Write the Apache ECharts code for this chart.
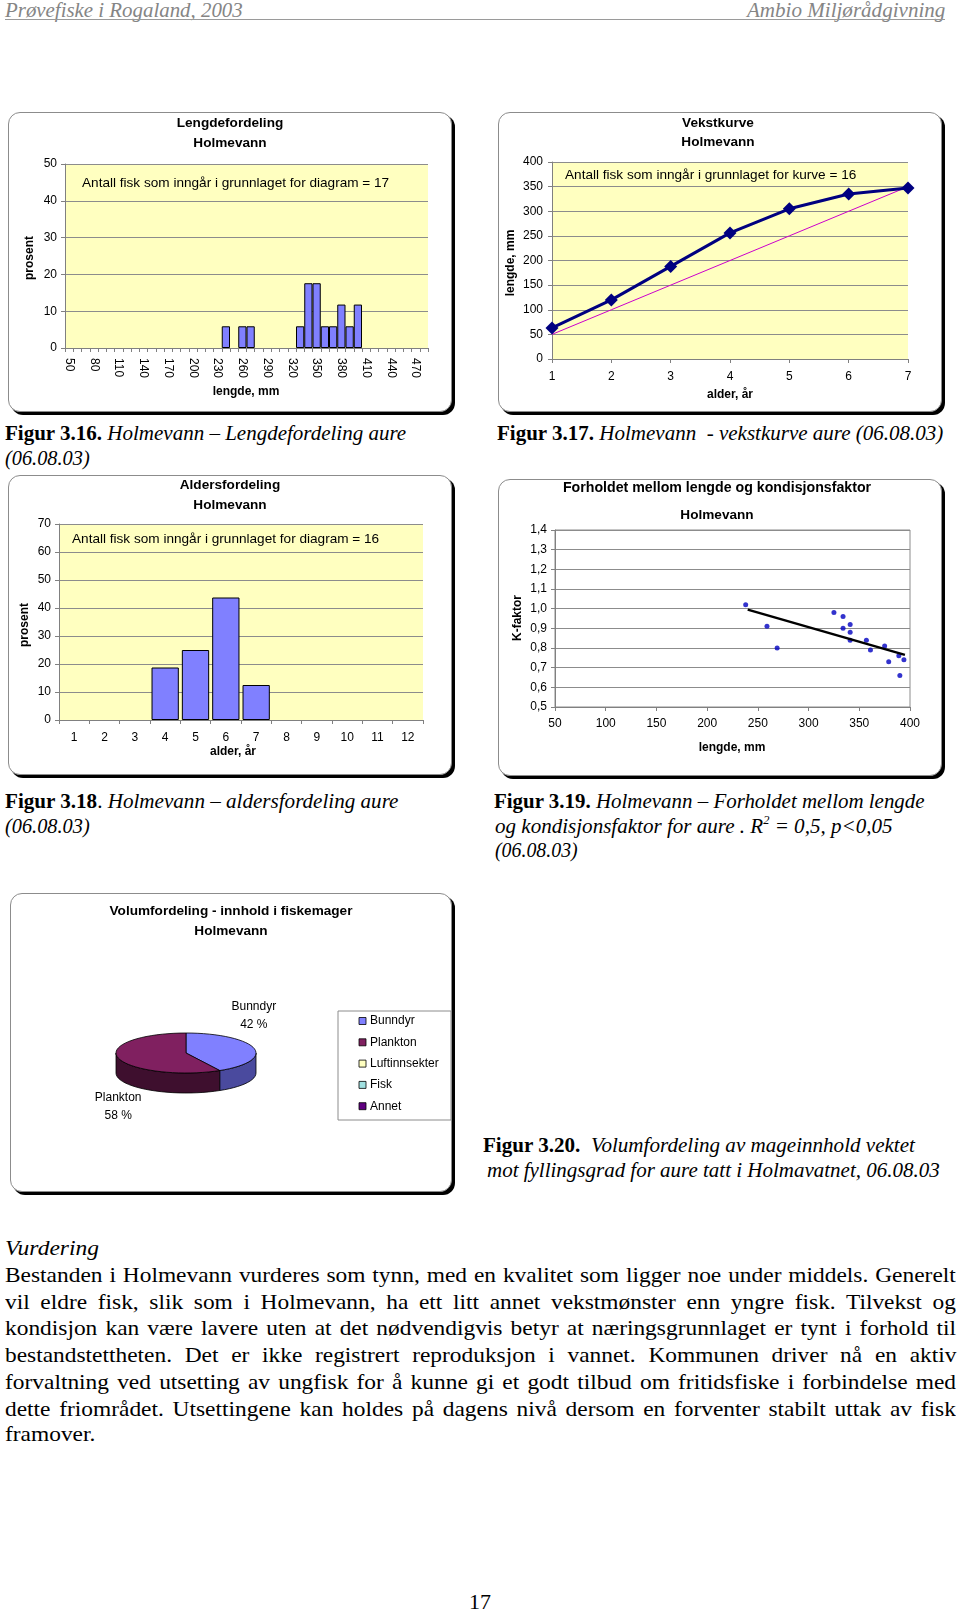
<!DOCTYPE html>
<html><head><meta charset="utf-8">
<script src="https://cdn.jsdelivr.net/npm/echarts@6/dist/echarts.min.js"></script>
<style>
html,body{margin:0;padding:0;background:#fff;}
body{width:960px;height:1613px;position:relative;overflow:hidden;font-family:"Liberation Serif","Times New Roman",serif;color:#000;}
.t{position:absolute;white-space:pre;display:inline-block;transform-origin:0 50%;line-height:26px;height:26px;font-size:22px;}
.frame{position:absolute;box-sizing:border-box;border:1px solid #8c8c8c;border-radius:12px;box-shadow:3px 3px 0 #000;background:#fff;}
.chart{position:absolute;}
.hdr{color:#858585;font-style:italic;font-size:20px;}
sup{font-size:13px;line-height:0;vertical-align:9px;}
</style></head>
<body>
<div class="t hdr" style="left:5px;top:-3px" data-w="238">Prøvefiske i Rogaland, 2003</div>
<div class="t hdr" style="left:747px;top:-3px" data-w="198">Ambio Miljørådgivning</div>
<div style="position:absolute;left:5px;top:19px;width:940px;border-top:1.5px solid #9a9a9a"></div>

<div class="frame" style="left:8px;top:112px;width:444px;height:300px"></div>
<div class="chart" id="c1" style="left:8px;top:112px;width:444px;height:300px"></div>
<div class="frame" style="left:498px;top:112px;width:444px;height:300px"></div>
<div class="chart" id="c2" style="left:498px;top:112px;width:444px;height:300px"></div>
<div class="frame" style="left:8px;top:475px;width:444px;height:300px"></div>
<div class="chart" id="c3" style="left:8px;top:475px;width:444px;height:300px"></div>
<div class="frame" style="left:498px;top:479px;width:444px;height:297px"></div>
<div class="chart" id="c4" style="left:498px;top:479px;width:444px;height:297px"></div>
<div class="frame" style="left:10px;top:893px;width:442px;height:299px"></div>
<div class="chart" id="c5" style="left:10px;top:893px;width:442px;height:299px"></div>

<div class="t" style="left:5px;top:420px" data-w="401"><b>Figur 3.16.</b><i> Holmevann – Lengdefordeling aure</i></div>
<div class="t" style="left:5px;top:445px" data-w="85"><i>(06.08.03)</i></div>
<div class="t" style="left:497px;top:420px" data-w="446"><b>Figur 3.17.</b><i> Holmevann  - vekstkurve aure (06.08.03)</i></div>
<div class="t" style="left:5px;top:788px" data-w="393"><b>Figur 3.18</b>. <i>Holmevann – aldersfordeling aure</i></div>
<div class="t" style="left:5px;top:813px" data-w="85"><i>(06.08.03)</i></div>
<div class="t" style="left:494px;top:788px" data-w="431"><b>Figur 3.19.</b><i> Holmevann – Forholdet mellom lengde</i></div>
<div class="t" style="left:495px;top:813px" data-w="398"><i>og kondisjonsfaktor for aure . R<sup>2</sup> = 0,5, p&lt;0,05</i></div>
<div class="t" style="left:495px;top:837px" data-w="83"><i>(06.08.03)</i></div>
<div class="t" style="left:483px;top:1132px" data-w="432"><b>Figur 3.20.</b>  <i>Volumfordeling av mageinnhold vektet</i></div>
<div class="t" style="left:487px;top:1157px" data-w="453"><i>mot fyllingsgrad for aure tatt i Holmavatnet, 06.08.03</i></div>

<div class="t" style="left:5px;top:1235px" data-w="94"><i>Vurdering</i></div>
<div class="t" style="left:5px;top:1262px" data-j="951">Bestanden i Holmevann vurderes som tynn, med en kvalitet som ligger noe under middels. Generelt</div>
<div class="t" style="left:5px;top:1289px" data-j="951">vil eldre fisk, slik som i Holmevann, ha ett litt annet vekstmønster enn yngre fisk. Tilvekst og</div>
<div class="t" style="left:5px;top:1315px" data-j="951">kondisjon kan være lavere uten at det nødvendigvis betyr at næringsgrunnlaget er tynt i forhold til</div>
<div class="t" style="left:5px;top:1342px" data-j="951">bestandstettheten. Det er ikke registrert reproduksjon i vannet. Kommunen driver nå en aktiv</div>
<div class="t" style="left:5px;top:1369px" data-j="951">forvaltning ved utsetting av ungfisk for å kunne gi et godt tilbud om fritidsfiske i forbindelse med</div>
<div class="t" style="left:5px;top:1396px" data-j="951">dette friområdet. Utsettingene kan holdes på dagens nivå dersom en forventer stabilt uttak av fisk</div>
<div class="t" style="left:5px;top:1421px" data-last="1">framover.</div>
<div class="t" style="left:469px;top:1589px">17</div>

<script>
// ---------- DATA ----------
const lenBins = [50,60,70,80,90,100,110,120,130,140,150,160,170,180,190,200,210,220,230,240,250,260,270,280,290,300,310,320,330,340,350,360,370,380,390,400,410,420,430,440,450,460,470,480];
const lenPct  = [0,0,0,0,0,0,0,0,0,0,0,0,0,0,0,0,0,0,0,5.9,0,5.9,5.9,0,0,0,0,0,5.9,17.6,17.6,5.9,5.9,11.8,5.9,11.8,0,0,0,0,0,0,0,0];

const growthAge = [1,2,3,4,5,6,7];
const growthLen = [63,120,188,256,305,335,347];
const growthRef = [50,100,150,200,250,300,350];

const ageCats = ['1','2','3','4','5','6','7','8','9','10','11','12'];
const agePct  = [0,0,0,18.75,25,43.75,12.5,0,0,0,0,0];

const condLen = [238,259,269,325,334,334,341,341,341,357,361,375,379,389,390,394];
const condK   = [1.02,0.91,0.80,0.98,0.96,0.90,0.92,0.88,0.84,0.84,0.79,0.81,0.73,0.76,0.66,0.74];
const trendLen = [240,395];
const trendK   = [0.995,0.765];

const dietNames = ['Bunndyr','Plankton','Luftinnsekter','Fisk','Annet'];
const dietPct   = [42,58,0,0,0];
// ---------- STYLE ----------
const dietColors = ['#8080FF','#802060','#FFFFC0','#A0E0E0','#600080'];
const dietSide   = ['#4A4A9E','#3E0F2E','#B0B080','#70A0A0','#300040'];
const FONT = '"Liberation Sans", Arial, sans-serif';
const GRAY = '#808080';
const lbl = {fontFamily: FONT, fontSize: 12, color: '#000'};

function txt(x, y, t, font, extra) {
  return Object.assign({type:'text', x:x, y:y, z:100, silent:true,
    style:{text:t, font:font, fill:'#000', align:'center', verticalAlign:'middle'}}, extra || {});
}
function leftTxt(x, y, t) {
  const e = txt(x, y, t, '13.6px ' + FONT); e.style.align = 'left'; return e;
}
const B13 = 'bold 13.6px ' + FONT, B12 = 'bold 12px ' + FONT;
function gridBase(l, t, w, h, bg) {
  return {left:l, top:t, width:w, height:h, show:true, backgroundColor:bg, borderWidth:0,
    containLabel:false, outerBoundsMode:'none'};
}
function valAxis(min, max, interval, margin, extra) {
  return Object.assign({type:'value', min:min, max:max, interval:interval,
    axisLine:{show:true, lineStyle:{color:GRAY}},
    axisTick:{show:true, length:4, lineStyle:{color:GRAY}},
    axisLabel:Object.assign({margin:margin}, lbl),
    splitLine:{show:true, lineStyle:{color:'#8c8c8c', width:1}}}, extra || {});
}

// ---------- Chart 1: Lengdefordeling ----------
echarts.init(document.getElementById('c1')).setOption({
  animation:false,
  grid: gridBase(57, 52, 363, 184, '#FFFFC0'),
  xAxis: {type:'category', data: lenBins.map(String), boundaryGap:true,
    axisLine:{show:true, lineStyle:{color:GRAY}},
    axisTick:{show:true, interval:0, length:4, lineStyle:{color:GRAY}},
    axisLabel:Object.assign({interval:2, rotate:-90, margin:10}, lbl),
    splitLine:{show:false}},
  yAxis: valAxis(0, 50, 10, 8),
  series:[{type:'bar', data: lenPct.map(v => v === 0 ? null : v), barCategoryGap:'0%', barGap:'0%',
    itemStyle:{color:'#8080FF', borderColor:'#000', borderWidth:1}}],
  graphic:[
    txt(222, 11, 'Lengdefordeling', B13), txt(222, 31, 'Holmevann', B13),
    leftTxt(74, 71, 'Antall fisk som inngår i grunnlaget for diagram = 17'),
    txt(238, 280, 'lengde, mm', B12),
    txt(22, 146, 'prosent', B12, {rotation: Math.PI/2})
  ]
});

// ---------- Chart 2: Vekstkurve ----------
echarts.init(document.getElementById('c2')).setOption({
  animation:false,
  grid: gridBase(54, 50, 356, 197, '#FFFFC0'),
  xAxis: valAxis(1, 7, 1, 12, {splitLine:{show:false}}),
  yAxis: valAxis(0, 400, 50, 9),
  series:[
    {type:'line', data: growthAge.map((a,i)=>[a, growthRef[i]]), symbol:'none',
      lineStyle:{color:'#CC00CC', width:1}},
    {type:'line', data: growthAge.map((a,i)=>[a, growthLen[i]]), symbol:'diamond', symbolSize:13,
      lineStyle:{color:'#000080', width:3}, itemStyle:{color:'#000080'}}
  ],
  graphic:[
    txt(220, 11, 'Vekstkurve', B13), txt(220, 30, 'Holmevann', B13),
    leftTxt(67, 63, 'Antall fisk som inngår i grunnlaget for kurve = 16'),
    txt(232, 283, 'alder, år', B12),
    txt(13, 151, 'lengde, mm', B12, {rotation: Math.PI/2})
  ]
});

// ---------- Chart 3: Aldersfordeling ----------
echarts.init(document.getElementById('c3')).setOption({
  animation:false,
  grid: gridBase(51, 49, 364, 196, '#FFFFC0'),
  xAxis: {type:'category', data: ageCats, boundaryGap:true,
    axisLine:{show:true, lineStyle:{color:GRAY}},
    axisTick:{show:true, interval:0, length:4, lineStyle:{color:GRAY}},
    axisLabel:Object.assign({interval:0, margin:12}, lbl),
    splitLine:{show:false}},
  yAxis: valAxis(0, 70, 10, 8),
  series:[{type:'bar', data: agePct.map(v => v === 0 ? null : v), barCategoryGap:'10%',
    itemStyle:{color:'#8080FF', borderColor:'#000', borderWidth:1}}],
  graphic:[
    txt(222, 10, 'Aldersfordeling', B13), txt(222, 30, 'Holmevann', B13),
    leftTxt(64, 64, 'Antall fisk som inngår i grunnlaget for diagram = 16'),
    txt(225, 277, 'alder, år', B12),
    txt(17, 150, 'prosent', B12, {rotation: Math.PI/2})
  ]
});

// ---------- Chart 4: Kondisjon ----------
const g4 = gridBase(57, 51, 355, 177, '#FFFFFF');
g4.borderWidth = 1; g4.borderColor = '#8c8c8c';
echarts.init(document.getElementById('c4')).setOption({
  animation:false,
  grid: g4,
  xAxis: valAxis(50, 400, 50, 11, {splitLine:{show:false}}),
  yAxis: valAxis(0.5, 1.4, 0.1, 8, {axisLabel:Object.assign({margin:8,
    formatter: v => v.toFixed(1).replace('.', ',')}, lbl)}),
  series:[
    {type:'scatter', data: condLen.map((x,i)=>[x, condK[i]]), symbolSize:5,
      itemStyle:{color:'#0000C0'}},
    {type:'line', data: trendLen.map((x,i)=>[x, trendK[i]]), symbol:'none',
      lineStyle:{color:'#000', width:2.5}}
  ],
  graphic:[
    txt(219, 9, 'Forholdet mellom lengde og kondisjonsfaktor', 'bold 14.2px ' + FONT), txt(219, 36, 'Holmevann', B13),
    txt(234, 269, 'lengde, mm', B12),
    txt(20, 139, 'K-faktor', B12, {rotation: Math.PI/2})
  ]
});

// ---------- Chart 5: Volumfordeling (3D-style pie) ----------
const dietTotal = dietPct.reduce((a,b)=>a+b, 0);
const dietStart = []; { let acc = 0; dietPct.forEach(v => { dietStart.push(acc); acc += v; }); }
const PIE = {cx:176, cy:160, rx:70, ry:20, depth:20};
function ep(t, dy) { return [PIE.cx + PIE.rx*Math.sin(t), PIE.cy - PIE.ry*Math.cos(t) + (dy||0)]; }
function arc(s, e, dy) {
  const n = Math.max(2, Math.ceil(72*(e-s)/(2*Math.PI)));
  const pts = []; for (let k = 0; k <= n; k++) pts.push(ep(s + (e-s)*k/n, dy)); return pts;
}
const legendItems = [{type:'rect', shape:{x:328, y:118, width:113, height:109},
  style:{fill:'#fff', stroke:'#8c8c8c', lineWidth:1}}];
dietNames.forEach((n, k) => {
  const y = 128 + 21.3*k;
  legendItems.push({type:'rect', shape:{x:349, y:y-3.5, width:7, height:7},
    style:{fill:dietColors[k], stroke:'#000', lineWidth:0.8}});
  legendItems.push({type:'text', x:360, y:y, style:{text:n, font:'12px '+FONT, fill:'#000',
    align:'left', verticalAlign:'middle'}});
});
echarts.init(document.getElementById('c5')).setOption({
  animation:false,
  series:[{type:'custom', coordinateSystem:'none', data: dietPct.map(v => [v]),
    renderItem: function(params, api) {
      const i = params.dataIndex, v = api.value(0);
      if (!v) return {type:'group', children:[]};
      const a0 = dietStart[i]/dietTotal*2*Math.PI, a1 = (dietStart[i]+v)/dietTotal*2*Math.PI;
      const ch = [];
      const s = Math.max(a0, Math.PI/2), e = Math.min(a1, 1.5*Math.PI);
      if (s < e) {
        ch.push({type:'polygon', shape:{points: arc(s,e,0).concat(arc(s,e,PIE.depth).reverse())},
          style:{fill:dietSide[i], stroke:'#000', lineWidth:0.8}});
      }
      ch.push({type:'polygon', shape:{points: [[PIE.cx, PIE.cy]].concat(arc(a0,a1,0))},
        style:{fill:dietColors[i], stroke:'#000', lineWidth:0.8}});
      const m = (a0+a1)/2, up = Math.cos(m) > 0;
      ch.push({type:'text', x: PIE.cx + PIE.rx*Math.sin(m),
        y: up ? PIE.cy - PIE.ry - 17 : PIE.cy + PIE.ry + PIE.depth + 14,
        style:{text: dietNames[i] + '\n' + Math.round(v/dietTotal*100) + ' %', font:'12px '+FONT,
          fill:'#000', align:'center', verticalAlign:'middle', lineHeight:18}});
      return {type:'group', children: ch};
    }}],
  graphic:[
    txt(221, 18, 'Volumfordeling - innhold i fiskemager', B13), txt(221, 38, 'Holmevann', B13),
    {type:'group', children: legendItems}
  ]
});

// ---------- text fitting ----------
function fitText() {
  document.querySelectorAll('[data-w]').forEach(el => {
    el.style.transform = 'none';
    const nat = el.offsetWidth;
    el.style.transform = 'scaleX(' + (+el.dataset.w / nat) + ')';
  });
  // body: one common horizontal scale (set so the tightest line has ~1px extra per space), then justify
  const lines = Array.from(document.querySelectorAll('[data-j]'));
  lines.forEach(el => { el.style.wordSpacing = '0px'; el.style.transform = 'none'; });
  let s = Infinity;
  lines.forEach(el => {
    const sp = (el.textContent.match(/ /g) || []).length;
    s = Math.min(s, +el.dataset.j / (el.offsetWidth + sp * 1.0));
  });
  lines.forEach(el => {
    const sp = (el.textContent.match(/ /g) || []).length;
    el.style.wordSpacing = ((+el.dataset.j / s - el.offsetWidth) / sp) + 'px';
    el.style.transform = 'scaleX(' + s + ')';
  });
  document.querySelectorAll('[data-last]').forEach(el => { el.style.transform = 'scaleX(' + s + ')'; });
}
fitText();
if (document.fonts) document.fonts.ready.then(fitText);
</script>
</body></html>
